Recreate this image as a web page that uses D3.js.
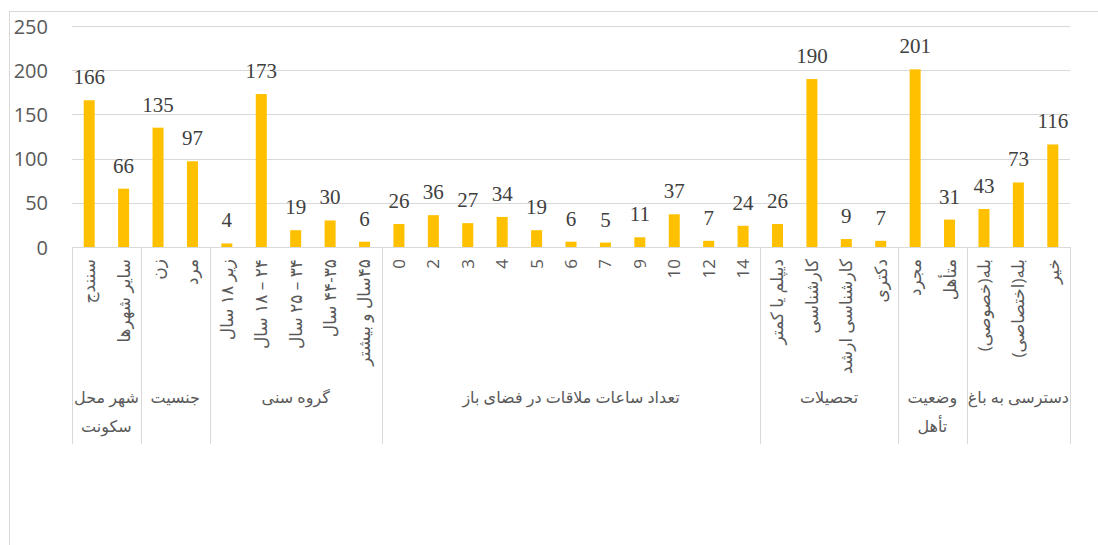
<!DOCTYPE html>
<html>
<head>
<meta charset="utf-8">
<script src="https://cdn.jsdelivr.net/npm/d3@7"></script>
<style>
	body { margin: 0; background: #fff; }
	svg { display: block; }
	.val { font-family: "Liberation Serif", "Times New Roman", serif; }
</style>
</head>
<body>
<div class="chart"></div>
<script>
// category labels, left to right (bidi marks keep the number ranges in the source's order)
var categories = [
	"سنندج", "سایر شهرها",
	"زن", "مرد",
	"زیر ۱۸ سال", "\u2066۱۸ – ۲۴\u2069 سال", "\u2066۲۵ – ۳۴\u2069 سال", "۳۵\u200F-\u200F۴۴ سال", "۴۵سال و بیشتر",
	"0", "2", "3", "4", "5", "6", "7", "9", "10", "12", "14",
	"دیپلم یا کمتر", "کارشناسی", "کارشناسی ارشد", "دکتری",
	"مجرد", "متأهل",
	"بله(خصوصی)", "بله(اختصاصی)", "خیر"
];
var values = [166, 66, 135, 97, 4, 173, 19, 30, 6, 26, 36, 27, 34, 19, 6, 5, 11, 37, 7, 24, 26, 190, 9, 7, 201, 31, 43, 73, 116];
var groupNames = ["شهر محل سکونت", "جنسیت", "گروه سنی", "تعداد ساعات ملاقات در فضای باز", "تحصیلات", "وضعیت تأهل", "دسترسی به باغ"];
var groupSizes = [2, 2, 5, 11, 4, 2, 3];
var yTicks = [0, 50, 100, 150, 200, 250];

(function drawChart() {
	"use strict";
	var width = 1098, height = 545;
	var left = 72, right = 1070, top = 26, base = 247;
	var grey = "#d9d9d9";

	var svg = d3.select(".chart")
				.append("svg")
				.attr("width", width)
				.attr("height", height);

	// outer frame (open at right and bottom like the source)
	svg.append("rect")
	   .attr("x", 9.5).attr("y", 11.5)
	   .attr("width", 1200).attr("height", 700)
	   .attr("fill", "none")
	   .attr("stroke", grey);

	var x = d3.scaleBand()
			  .domain(d3.range(categories.length))
			  .range([left, right])
			  .paddingInner(0.68)
			  .paddingOuter(0.34);

	var y = d3.scaleLinear()
			  .domain([0, 250])
			  .range([base, top]);

	// gridlines
	svg.append("g")
	   .selectAll("line")
	   .data(yTicks)
	   .enter()
	   .append("line")
	   .attr("x1", left).attr("x2", right)
	   .attr("y1", function(d) { return Math.round(y(d)) + 0.5; })
	   .attr("y2", function(d) { return Math.round(y(d)) + 0.5; })
	   .attr("stroke", grey);

	// y axis labels
	var yAxis = d3.axisLeft(y).tickValues(yTicks).tickSize(0).tickPadding(0);
	var gy = svg.append("g")
				.attr("transform", "translate(48,0)")
				.call(yAxis);
	gy.select(".domain").remove();
	gy.selectAll("text")
	  .attr("fill", "#595959")
	  .attr("font-family", "Open Sans, Liberation Sans, sans-serif")
	  .attr("font-size", "20px")
	  .attr("dy", "0.35em");

	// bars
	svg.append("g")
	   .selectAll("rect")
	   .data(values)
	   .enter()
	   .append("rect")
	   .attr("x", function(d, i) { return x(i); })
	   .attr("width", x.bandwidth())
	   .attr("y", function(d) { return y(d); })
	   .attr("height", function(d) { return base - y(d); })
	   .attr("fill", "#ffc000");

	// value labels
	svg.append("g")
	   .selectAll("text")
	   .data(values)
	   .enter()
	   .append("text")
	   .attr("class", "val")
	   .attr("x", function(d, i) { return x(i) + x.bandwidth() / 2; })
	   .attr("y", function(d) { return y(d) - 16; })
	   .attr("text-anchor", "middle")
	   .attr("font-size", "21px")
	   .attr("fill", "#404040")
	   .text(function(d) { return d; });

	// category axis
	var xAxis = d3.axisBottom(x).tickSize(0).tickFormat(function(i) { return categories[i]; });
	var gx = svg.append("g")
				.attr("transform", "translate(0," + base + ")")
				.call(xAxis);
	gx.select(".domain").remove();
	gx.selectAll("text")
	  .attr("y", null)
	  .attr("x", 0)
	  .attr("dy", "0.35em")
	  .attr("transform", "translate(0,12) rotate(-90)")
	  .attr("direction", "rtl")
	  .attr("text-anchor", "start")
	  .attr("fill", "#595959")
	  .attr("font-family", "Open Sans, DejaVu Sans, sans-serif")
	  .attr("font-size", "17px");

	svg.append("line")
	   .attr("x1", left).attr("x2", right)
	   .attr("y1", base + 0.5).attr("y2", base + 0.5)
	   .attr("stroke", grey);

	// group separators and labels
	var bounds = [0];
	groupSizes.forEach(function(n) { bounds.push(bounds[bounds.length - 1] + n); });
	var step = x.step();
	var edge = function(k) { return left + k * step; };

	svg.append("g")
	   .selectAll("line")
	   .data(bounds)
	   .enter()
	   .append("line")
	   .attr("x1", function(k) { return Math.round(edge(k)) + 0.5; })
	   .attr("x2", function(k) { return Math.round(edge(k)) + 0.5; })
	   .attr("y1", base)
	   .attr("y2", 444)
	   .attr("stroke", grey);

	var gl = svg.append("g")
				.selectAll("text")
				.data(groupNames)
				.enter()
				.append("text")
				.attr("direction", "rtl")
				.attr("text-anchor", "middle")
				.attr("fill", "#595959")
				.attr("font-family", "Open Sans, DejaVu Sans, sans-serif")
				.attr("font-size", "16px")
				.attr("x", function(d, i) { return (edge(bounds[i]) + edge(bounds[i + 1])) / 2; })
				.attr("y", 397)
				.attr("dy", "0.35em")
				.text(function(d) { return d; });

	// wrap labels that do not fit their group
	gl.each(function(d, i) {
		var t = d3.select(this);
		var room = edge(bounds[i + 1]) - edge(bounds[i]) + 2;
		if (this.getComputedTextLength() <= room) return;
		var words = d.split(" "), lines = [], cur = [];
		words.forEach(function(w) {
			cur.push(w);
			t.text(cur.join(" "));
			if (cur.length > 1 && t.node().getComputedTextLength() > room) {
				cur.pop();
				lines.push(cur.join(" "));
				cur = [w];
			}
		});
		lines.push(cur.join(" "));
		var cx = t.attr("x");
		t.text(null);
		lines.forEach(function(line, j) {
			t.append("tspan")
			 .attr("x", cx)
			 .attr("y", 397 + j * 29)
			 .attr("dy", "0.35em")
			 .text(line);
		});
	});
}());
</script>
</body>
</html>
